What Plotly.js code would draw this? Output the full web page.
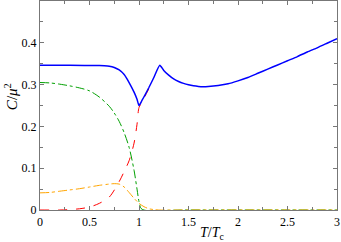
<!DOCTYPE html>
<html><head><meta charset="utf-8">
<script src="https://cdn.plot.ly/plotly-3.0.1.min.js"></script>
<style>html,body{margin:0;padding:0;background:#fff}</style>
</head><body><div id="plot" style="width:341px;height:242px"></div>
<script>
const blueX = [0,0.3,0.6,0.65,0.7,0.75,0.8,0.85,0.9,0.95,0.98,1.0,1.03,1.06,1.1,1.15,1.21,1.25,1.3,1.35,1.4,1.45,1.5,1.55,1.6,1.65,1.7,1.8,1.9,2.0,2.1,2.2,2.3,2.4,2.5,2.6,2.7,2.8,2.9,3.0];
const blueY = [0.346,0.346,0.3455,0.345,0.344,0.341,0.335,0.324,0.305,0.282,0.265,0.25,0.262,0.275,0.293,0.317,0.346,0.334,0.3225,0.3135,0.3075,0.303,0.2995,0.297,0.2955,0.295,0.2955,0.298,0.302,0.309,0.317,0.327,0.337,0.347,0.357,0.367,0.378,0.388,0.399,0.41];
const greenX = [0,0.1,0.2,0.3,0.4,0.5,0.6,0.7,0.75,0.8,0.85,0.9,0.95,0.98,1.0,1.02,1.05,1.5,2,2.5,3];
const greenY = [0.305,0.304,0.301,0.297,0.292,0.285,0.27,0.248,0.232,0.212,0.185,0.15,0.095,0.05,0.02,0.004,0,0,0,0,0];
const redX = [0,0.2,0.3,0.4,0.5,0.6,0.7,0.8,0.85,0.9,0.95,0.98,1.0,1.03,1.06,1.1];
const redY = [0,0,0.001,0.003,0.007,0.016,0.031,0.068,0.092,0.118,0.16,0.205,0.245,0.258,0.272,0.29];
const orangeX = [0,0.1,0.2,0.3,0.4,0.5,0.6,0.7,0.75,0.8,0.85,0.9,0.95,1.0,1.05,1.1,1.15,1.2,1.5,2,2.5,3];
const orangeY = [0.041,0.042,0.045,0.048,0.051,0.055,0.059,0.062,0.063,0.062,0.055,0.042,0.028,0.016,0.008,0.003,0.001,0,0,0,0,0];
const xTicks = [0,0.5,1,1.5,2,2.5,3];
const xTickText = ['0','0.5','1','1.5','2','2.5','3'];
const yTicks = [0,0.1,0.2,0.3,0.4];
const yTickText = ['0','0.1','0.2','0.3','0.4'];
const xTitle = '<i>T</i>/<i>T</i><sub>c</sub>';
const yTitle = '<i>C</i>/<i>μ</i><sup>2</sup>';

const traces = [
  {x: redX, y: redY, mode:'lines', line:{color:'#ff0000', width:1, dash:'dash', shape:'spline', smoothing:0.8}},
  {x: greenX, y: greenY, mode:'lines', line:{color:'#00a000', width:1, dash:'dashdot', shape:'spline', smoothing:0.8}},
  {x: orangeX, y: orangeY, mode:'lines', line:{color:'#ffa500', width:1, dash:'dashdot', shape:'spline', smoothing:0.8}},
  {x: blueX, y: blueY, mode:'lines', line:{color:'#0000ff', width:1.5, shape:'spline', smoothing:0.5}}
];
const axisCommon = {
  showgrid:false, zeroline:false, showline:true, linecolor:'#777', linewidth:1.2,
  mirror:'allticks', ticks:'inside', ticklen:4, tickcolor:'#777', tickwidth:1,
  tickfont:{family:'Liberation Serif, Times New Roman, serif', size:12, color:'#000'}
};
const titleFont = {family:'Liberation Serif, serif', size:14, color:'#000'};
const layout = {
  width:341, height:242, margin:{l:40,r:4,t:1,b:32},
  paper_bgcolor:'#fff', plot_bgcolor:'#fff', showlegend:false,
  xaxis: Object.assign({}, axisCommon, {range:[0,3], tickvals:xTicks, ticktext:xTickText,
    minor:{ticks:'inside', dtick:0.25, tick0:0, ticklen:3, tickcolor:'#777'}}),
  yaxis: Object.assign({}, axisCommon, {range:[0,0.5], tickvals:yTicks, ticktext:yTickText,
    minor:{ticks:'inside', dtick:0.05, tick0:0, ticklen:3, tickcolor:'#777'}}),
  annotations: [
    {text:xTitle, xref:'paper', yref:'paper', x:0.578, y:0, yshift:-23, xanchor:'center', yanchor:'middle', showarrow:false, font:titleFont},
    {text:yTitle, xref:'paper', yref:'paper', x:0, y:0.54, xshift:-29, xanchor:'center', yanchor:'middle', textangle:-90, showarrow:false, font:{family:'Liberation Serif, serif', size:15, color:'#000'}}
  ]
};
Plotly.newPlot('plot', traces, layout, {displayModeBar:false, staticPlot:true});
</script></body></html>
